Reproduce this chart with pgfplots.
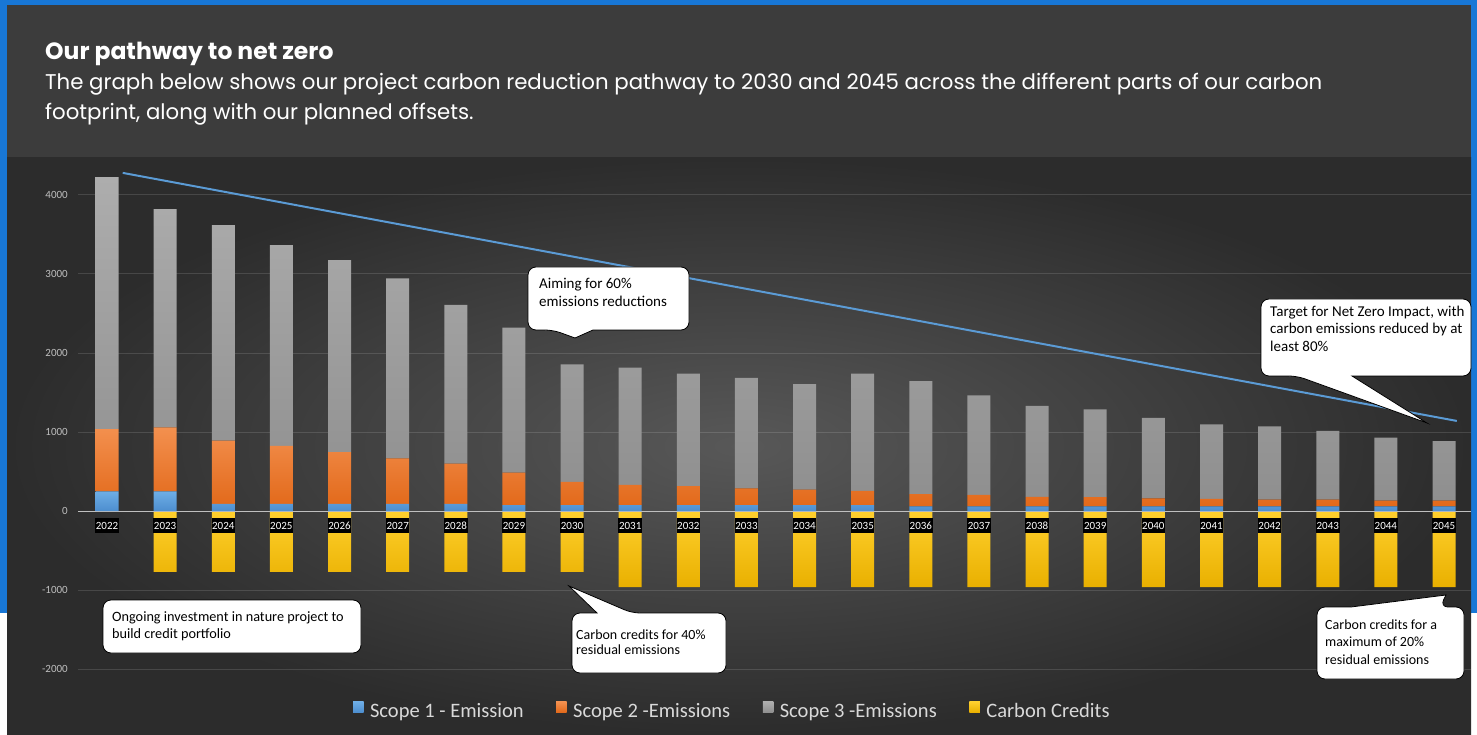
\documentclass[border=0pt]{standalone}
\usepackage{fontspec}
\usepackage{pgfplots}
\usepackage{pgfplotstable}
\pgfplotsset{compat=1.18}
\newfontfamily\carlito{Carlito}
\newfontfamily\poppins{Poppins}

\definecolor{bordblue}{HTML}{1877D6}
\definecolor{headbg}{HTML}{3C3C3C}
\definecolor{chartin}{HTML}{585858}
\definecolor{chartout}{HTML}{2C2C2C}
\definecolor{sa}{HTML}{5B9BD5}
\definecolor{satop}{HTML}{6EAEE6}
\definecolor{sabot}{HTML}{4D8ECF}
\definecolor{sbtop}{HTML}{F3904F}
\definecolor{sbbot}{HTML}{E2691A}
\definecolor{sctop}{HTML}{ADADAD}
\definecolor{scbot}{HTML}{8F8F8F}
\definecolor{cctop}{HTML}{FFD02E}
\definecolor{ccbot}{HTML}{E9B000}
\definecolor{ticklab}{HTML}{BFBFBF}
\definecolor{legtext}{HTML}{D9D9D9}

% year, scope 1, scope 2, scope 3, carbon credits
\pgfplotstableread{
year s1 s2 s3 cc
2022 250 785 3190 0
2023 250 810 2760 -770
2024 90 800 2730 -770
2025 90 735 2540 -770
2026 90 655 2430 -770
2027 90 575 2280 -770
2028 90 510 2010 -770
2029 75 410 1835 -770
2030 75 295 1485 -770
2031 75 255 1485 -965
2032 75 240 1425 -965
2033 75 210 1400 -965
2034 75 195 1335 -965
2035 75 180 1485 -965
2036 60 155 1430 -965
2037 60 145 1260 -965
2038 60 120 1150 -965
2039 60 115 1110 -965
2040 60 100 1020 -965
2041 60 95 940 -965
2042 60 85 925 -965
2043 60 85 870 -965
2044 60 70 800 -965
2045 60 70 755 -965
}\emissions

\pgfplotsset{
  chartgeom/.style={
    at={(77.95pt,33.4pt)}, anchor=south west,
    scale only axis, width=1392.8pt, height=541.94pt,
    xmin=2021.5, xmax=2045.46, ymin=-2400, ymax=4460,
    /pgf/number format/1000 sep={},
    /pgf/number format/assume math mode=true,
    major tick length=0pt,
  },
  ccstyle/.style={draw=none, top color=cctop, bottom color=ccbot},
}

\begin{document}
\begin{tikzpicture}[x=1pt,y=1pt]
\useasboundingbox (0,0) rectangle (1477,734);
\fill[white] (0,0) rectangle (1477,734);
\fill[bordblue] (0,121) rectangle (1477,734);
\fill[headbg] (7,576) rectangle (1471,729);
\shade[inner color=chartin, outer color=chartout] (7,0) rectangle (1471,576);

% header
\node[anchor=base west, inner sep=0, text=white, font=\poppins\bfseries\fontsize{23.5}{27}\selectfont] at (45,674) {Our pathway to net zero};
\node[anchor=base west, inner sep=0, text=white, font=\poppins\fontsize{21.3}{25}\selectfont] at (45,644) {The graph below shows our project carbon reduction pathway to 2030 and 2045 across the different parts of our carbon};
\node[anchor=base west, inner sep=0, text=white, font=\poppins\fontsize{21.3}{25}\selectfont] at (45,614) {footprint, along with our planned offsets.};

% axis 1: grid, y labels, credits and target line
\begin{axis}[chartgeom,
  hide x axis,
  axis y line*=left, y axis line style={draw=none},
  ytick={-2000,-1000,...,4000},
  ymajorgrids, grid style={draw=white, opacity=0.13, line width=1pt},
  yticklabel style={text=ticklab, font=\carlito\fontsize{11}{11}\selectfont, inner sep=0pt, anchor=east, xshift=-10pt},
]
\addplot[ybar, bar width=23pt, ccstyle] table[x=year, y=cc] {\emissions};
\addplot[sharp plot, no marks, draw=sa, line width=2pt] coordinates {(2022.27,4280) (2045.22,1140)};
\end{axis}

% axis 2: stacked emissions, year labels, legend
\begin{axis}[chartgeom,
  axis x line=middle, axis y line=none,
  every inner x axis line/.append style={-},
  x axis line style={draw=ticklab, line width=1pt},
  ybar stacked, bar width=23pt,
  xtick={2022,2023,...,2045},
  xticklabel style={fill=black, text=white, font=\carlito\fontsize{11}{11}\selectfont,
    inner xsep=0.6pt, inner ysep=3.5pt, text height=7.5pt, text depth=0.5pt, anchor=north, yshift=-7pt},
  legend columns=4,
  legend image code/.code={\path[#1] (0pt,-1pt) rectangle (10.5pt,9.5pt);},
  legend style={at={(0.470,-0.0192)}, anchor=center, draw=none, fill=none,
    text=legtext, font=\carlito\fontsize{20.5}{22}\selectfont,
    nodes={inner xsep=2.5pt, inner ysep=1pt},
    /tikz/every odd column/.append style={column sep=4pt},
    /tikz/every even column/.append style={column sep=30pt}},
]
\addplot[draw=none, top color=satop, bottom color=sabot] table[x=year, y=s1] {\emissions};
\addplot[draw=none, top color=sbtop, bottom color=sbbot] table[x=year, y=s2] {\emissions};
\addplot[draw=none, top color=sctop, bottom color=scbot] table[x=year, y=s3] {\emissions};
\addlegendimage{ccstyle}
\legend{Scope 1 - Emission, Scope 2 -Emissions, Scope 3 -Emissions, Carbon Credits}
\end{axis}

% callouts
\tikzset{callout/.style={fill=white, draw=black, line width=0.8pt}}
\draw[callout] (553,404) -- (575,396) -- (593,404) [rounded corners=8pt] -- (689,404) -- (689,467) -- (528,467) -- (528,404) -- cycle;
\node[anchor=base west, inner sep=0, font=\carlito\fontsize{15}{18}\selectfont] at (539,445.7) {Aiming for 60\%};
\node[anchor=base west, inner sep=0, font=\carlito\fontsize{15}{18}\selectfont] at (539,427.3) {emissions reductions};

\draw[callout] (1297,358) -- (1427,311) -- (1352,358) [rounded corners=8pt] -- (1471,358) -- (1471,435) -- (1261,435) -- (1261,358) -- cycle;
\node[anchor=base west, inner sep=0, font=\carlito\fontsize{15}{18}\selectfont] at (1270,417.3) {Target for Net Zero Impact, with};
\node[anchor=base west, inner sep=0, font=\carlito\fontsize{15}{18}\selectfont] at (1270,400) {carbon emissions reduced by at};
\node[anchor=base west, inner sep=0, font=\carlito\fontsize{15}{18}\selectfont] at (1270,382.3) {least 80\%};

\draw[callout, rounded corners=8pt] (103,81) rectangle (361,134);
\node[anchor=base west, inner sep=0, font=\carlito\fontsize{14.25}{17}\selectfont] at (112,112.7) {Ongoing investment in nature project to};
\node[anchor=base west, inner sep=0, font=\carlito\fontsize{14.25}{17}\selectfont] at (112,96) {build credit portfolio};

\draw[callout] (632,121) -- (569,148) -- (597,121) [rounded corners=8pt] -- (572,121) -- (572,61) -- (726,61) -- (726,121) -- cycle;
\node[anchor=base west, inner sep=0, font=\carlito\fontsize{14}{17}\selectfont] at (576,94.7) {Carbon credits for 40\%};
\node[anchor=base west, inner sep=0, font=\carlito\fontsize{14}{17}\selectfont] at (576,79.7) {residual emissions};

\draw[callout] (1440,127) -- (1446,139) -- (1351,127) [rounded corners=8pt] -- (1317,127) -- (1317,55) -- (1464,55) -- (1464,127) -- cycle;
\node[anchor=base west, inner sep=0, font=\carlito\fontsize{14}{17}\selectfont] at (1325,104.7) {Carbon credits for a};
\node[anchor=base west, inner sep=0, font=\carlito\fontsize{14}{17}\selectfont] at (1325,87.3) {maximum of 20\%};
\node[anchor=base west, inner sep=0, font=\carlito\fontsize{14}{17}\selectfont] at (1325,70) {residual emissions};
\end{tikzpicture}
\end{document}
